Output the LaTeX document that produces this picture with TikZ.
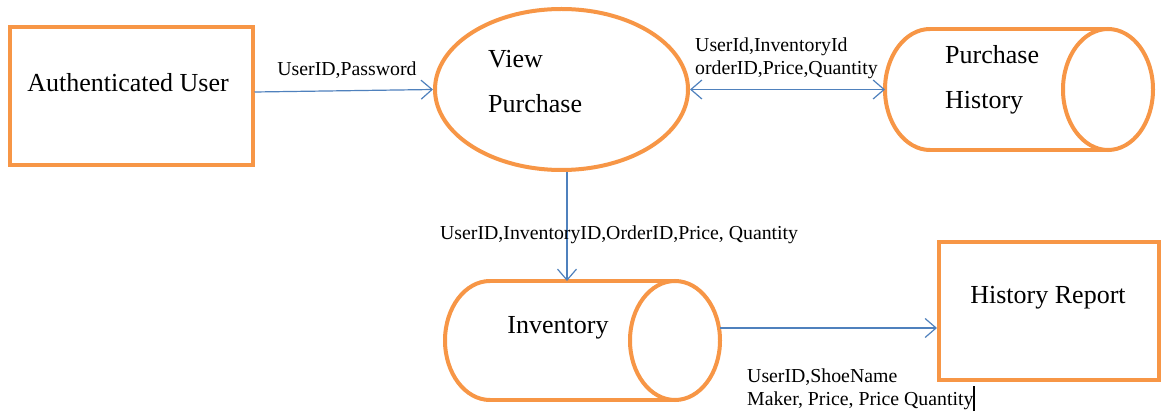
\documentclass[tikz,border=0pt]{standalone}
\usepackage{fontspec}
\setmainfont{Liberation Serif}
\usetikzlibrary{shapes.geometric,arrows.meta}
\definecolor{dfdorange}{HTML}{F79646}
\definecolor{dfdblue}{HTML}{4F81BD}
\tikzset{
  entity/.style={draw=dfdorange, line width=4pt, rectangle, inner sep=0pt},
  process/.style={draw=dfdorange, line width=4pt, ellipse, inner sep=0pt},
  storebox/.style={rectangle, inner sep=0pt, outer sep=0pt},
  storeline/.style={draw=dfdorange, line width=4pt},
  nodetext/.style={font=\fontsize{26}{45}\selectfont, inner sep=0pt},
  flowlabel/.style={font=\fontsize{19.8}{22.5}\selectfont, inner sep=0pt},
  barb/.tip={Straight Barb[length=11pt,width=19pt,line width=1.2pt]},
  flow/.style={draw=dfdblue, line width=1.2pt, -barb},
  flowboth/.style={draw=dfdblue, line width=1.2pt, barb-barb},
}
% outline of a horizontal data store: rounded left end, open ellipse on the right
\newcommand{\drawstore}[3]{%
  \draw[storeline] ([xshift=#2]#1.north west) -- ([xshift=-#2]#1.north east);
  \draw[storeline] ([xshift=#2]#1.south west) -- ([xshift=-#2]#1.south east);
  \draw[storeline] ([xshift=#2]#1.north west) arc[start angle=90, end angle=270, x radius=#2, y radius=#3];
  \draw[storeline] ([xshift=-#2]#1.east) ellipse[x radius=#2, y radius=#3];
}
\begin{document}
\begin{tikzpicture}[x=1pt,y=-1pt]
\useasboundingbox[fill=white] (0,0) rectangle (1163,414);

% external entities
\node[entity, minimum width=243pt, minimum height=138pt] (au) at (131,96) {};
\node[nodetext] (au-t) at (128,83) {Authenticated User};

\node[entity, minimum width=220pt, minimum height=138pt] (hr) at (1049,311) {};
\node[nodetext] (hr-t) at (1048,298) {History Report};

% process
\node[process, minimum width=253pt, minimum height=161pt] (vp) at (561.5,89.5) {};
\node[nodetext, anchor=north west, align=left] (vp-t) at (488,50) {View\\Purchase};

% data stores
\node[storebox, minimum width=268pt, minimum height=121pt] (ph) at (1019,89.5) {};
\drawstore{ph}{45pt}{60.5pt}
\node[nodetext, anchor=north west, align=left] (ph-t) at (945,45) {Purchase\\History};

\node[storebox, minimum width=275pt, minimum height=119pt] (inv) at (582.5,340.5) {};
\drawstore{inv}{45pt}{59.5pt}
\node[nodetext] (inv-t) at (558,328) {Inventory};

% data flows
\draw[flow] ([yshift=4pt]au.east) -- (vp.west);
\node[flowlabel] (l1) at (347,70) {UserID,Password};

\draw[flowboth] (vp.east) -- (ph.west);
\node[flowlabel, anchor=west, align=left] (l2) at (695,58.5) {UserId,InventoryId\\orderID,Price,Quantity};

\draw[flow] ([xshift=5.5pt]vp.south) -- ([xshift=5.5pt]vp.south |- inv.north);
\node[flowlabel, anchor=west] (l3) at (440,235) {UserID,InventoryID,OrderID,Price, Quantity};

\draw[flow] ([yshift=12.5pt]inv.east) -- ([yshift=12.5pt]inv.east -| hr.west);
\node[flowlabel, anchor=west, align=left] (l4) at (747,390) {UserID,ShoeName\\Maker, Price, Price Quantity\rule[-6pt]{1.8pt}{25pt}};
\end{tikzpicture}
\end{document}
